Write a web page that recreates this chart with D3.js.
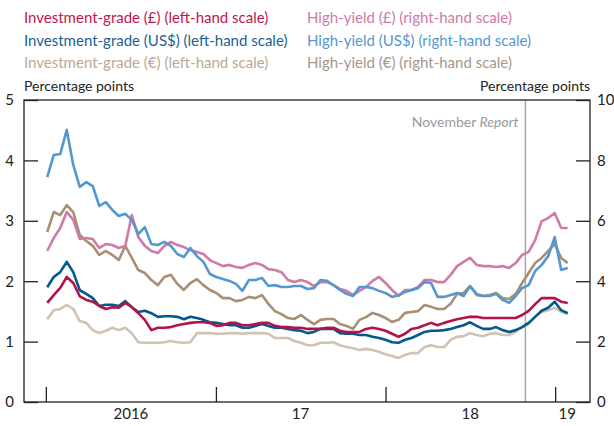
<!DOCTYPE html>
<html>
<head>
<meta charset="utf-8">
<script src="https://cdn.jsdelivr.net/npm/d3@7"></script>
<style>
  body { margin: 0; background: #fff; }
  svg text { font-family: Lato, "Open Sans", sans-serif; }
</style>
</head>
<body>
<svg id="chart" width="614" height="426"></svg>
<script>
// sample dates: every two weeks from 4 Jan 2016 to 28 Jan 2019
var startDate = new Date(2016, 0, 4);
var nPoints = 81;
var dates = d3.range(nPoints).map(function(i) { return d3.timeDay.offset(startDate, 14 * i); });

// investment-grade spreads (left-hand scale, percentage points)
var igGBP = [1.64,1.77,1.89,2.07,1.97,1.75,1.69,1.66,1.59,1.54,1.57,1.56,1.64,1.57,1.47,1.36,1.19,1.23,1.23,1.24,
  1.27,1.29,1.31,1.32,1.32,1.31,1.26,1.27,1.31,1.31,1.27,1.27,1.29,1.31,1.31,1.26,1.24,1.24,1.23,1.23,
  1.21,1.21,1.21,1.23,1.23,1.18,1.16,1.16,1.16,1.21,1.23,1.21,1.18,1.13,1.08,1.13,1.21,1.23,1.27,1.31,
  1.27,1.31,1.34,1.37,1.39,1.41,1.41,1.39,1.39,1.39,1.39,1.39,1.39,1.44,1.51,1.62,1.72,1.72,1.72,1.66,1.64];
var igUSD = [1.90,2.07,2.15,2.32,2.15,1.85,1.79,1.72,1.59,1.61,1.61,1.59,1.67,1.57,1.49,1.51,1.47,1.41,1.42,1.42,
  1.41,1.37,1.41,1.39,1.36,1.32,1.31,1.29,1.27,1.27,1.23,1.23,1.26,1.29,1.26,1.23,1.23,1.21,1.19,1.18,
  1.14,1.16,1.21,1.21,1.21,1.14,1.13,1.13,1.11,1.11,1.08,1.06,1.03,0.99,0.98,1.03,1.06,1.11,1.16,1.18,
  1.18,1.19,1.21,1.24,1.27,1.32,1.26,1.21,1.21,1.24,1.19,1.16,1.19,1.24,1.31,1.41,1.51,1.56,1.66,1.52,1.47];
var igEUR = [1.37,1.52,1.54,1.61,1.54,1.34,1.31,1.19,1.14,1.18,1.23,1.19,1.23,1.14,0.99,0.98,0.98,0.98,0.99,1.01,
  0.99,0.98,0.99,1.14,1.14,1.14,1.13,1.13,1.14,1.14,1.13,1.14,1.14,1.14,1.13,1.06,1.06,1.06,1.01,0.98,
  0.94,0.94,0.98,0.98,0.99,0.94,0.91,0.89,0.86,0.88,0.86,0.83,0.79,0.76,0.73,0.78,0.81,0.81,0.91,0.94,
  0.91,0.91,1.03,1.08,1.09,1.14,1.11,1.09,1.13,1.14,1.11,1.11,1.16,1.24,1.29,1.42,1.49,1.52,1.56,1.49,1.46];

// high-yield spreads (right-hand scale, percentage points)
var hyGBP = [5.00,5.43,5.76,6.29,6.03,5.40,5.43,5.40,5.10,5.23,5.20,5.10,5.17,6.19,5.46,5.17,5.00,4.93,5.17,5.30,
  5.20,5.13,5.03,4.97,4.90,4.70,4.60,4.50,4.54,4.47,4.44,4.54,4.60,4.54,4.40,4.37,4.30,4.04,3.97,4.04,
  3.97,3.84,3.97,3.97,3.87,3.74,3.68,3.54,3.68,3.81,4.01,4.14,3.94,3.71,3.51,3.71,3.71,3.81,4.04,4.04,
  3.97,3.97,4.21,4.50,4.64,4.77,4.54,4.50,4.50,4.47,4.50,4.44,4.60,4.87,4.97,5.36,5.99,6.09,6.26,5.76,5.76];
var hyUSD = [7.45,8.18,8.21,9.01,7.85,7.12,7.28,7.15,6.49,6.62,6.36,6.16,6.23,6.03,5.56,5.79,5.23,5.20,5.30,5.17,
  4.90,4.80,5.10,4.83,4.64,4.24,4.14,4.07,4.01,3.91,3.68,4.04,4.04,4.11,3.84,3.87,3.81,3.81,3.84,3.84,
  3.74,3.77,4.04,4.01,3.87,3.71,3.58,3.51,3.81,3.81,3.77,3.68,3.61,3.48,3.54,3.64,3.71,3.77,3.97,3.94,
  3.48,3.48,3.54,3.61,3.51,3.84,3.58,3.51,3.51,3.58,3.38,3.28,3.51,3.77,3.87,4.34,4.54,4.83,5.46,4.37,4.44];
var hyEUR = [5.63,6.29,6.19,6.52,6.29,5.53,5.33,5.17,4.87,5.00,4.87,4.70,5.17,4.77,4.37,4.27,4.04,3.87,4.14,4.21,
  3.91,3.71,3.94,4.07,3.87,3.71,3.61,3.44,3.44,3.34,3.38,3.48,3.44,3.54,3.25,3.01,2.91,2.78,2.75,2.88,
  2.72,2.58,2.72,2.75,2.75,2.58,2.52,2.42,2.72,2.81,2.95,2.88,2.78,2.65,2.72,2.95,2.98,3.01,3.21,3.15,
  3.08,3.08,3.25,3.58,3.61,3.84,3.54,3.51,3.54,3.61,3.44,3.41,3.58,3.94,4.27,4.60,4.77,5.00,5.23,4.77,4.60];

var series = [
  { name: "Investment-grade (€) (left-hand scale)", values: igEUR, axis: "left", color: "#d1c3b3", text: "#bba994" },
  { name: "High-yield (€) (right-hand scale)", values: hyEUR, axis: "right", color: "#a98f74", text: "#a6978a" },
  { name: "High-yield (£) (right-hand scale)", values: hyGBP, axis: "right", color: "#d07aa9", text: "#d07aa9" },
  { name: "High-yield (US$) (right-hand scale)", values: hyUSD, axis: "right", color: "#5598cf", text: "#5598cf" },
  { name: "Investment-grade (US$) (left-hand scale)", values: igUSD, axis: "left", color: "#015a8d", text: "#1a5f95" },
  { name: "Investment-grade (£) (left-hand scale)", values: igGBP, axis: "left", color: "#b3124a", text: "#c0174f" }
];
// legend layout order (column, row)
var legendOrder = [
  ["Investment-grade (£) (left-hand scale)", "Investment-grade (US$) (left-hand scale)", "Investment-grade (€) (left-hand scale)"],
  ["High-yield (£) (right-hand scale)", "High-yield (US$) (right-hand scale)", "High-yield (€) (right-hand scale)"]
];

var yearTicks = [new Date(2016, 0, 1), new Date(2017, 0, 1), new Date(2018, 0, 1), new Date(2019, 0, 1)];
var yearLabels = ["2016", "17", "18", "19"];
var yearLabelDates = [new Date(2016, 6, 1), new Date(2017, 6, 1), new Date(2018, 6, 1), new Date(2019, 0, 26)];
var reportDate = new Date(2018, 9, 29);

var margin = { top: 100, right: 24, bottom: 24, left: 24 },
  width = 614 - margin.left - margin.right,
  height = 426 - margin.top - margin.bottom;

var svg = d3.select("#chart");
var g = svg.append("g").attr("transform", "translate(" + margin.left + "," + margin.top + ")");

var x = d3.scaleTime().domain([new Date(2015, 10, 15), new Date(2019, 2, 17)]).range([0, width]);
var yLeft = d3.scaleLinear().domain([0, 5]).range([height, 0]);
var yRight = d3.scaleLinear().domain([0, 10]).range([height, 0]);

// legend
legendOrder.forEach(function(col, ci) {
  col.forEach(function(name, ri) {
    var s = series.find(function(d) { return d.name === name; });
    svg.append("text")
      .attr("x", ci === 0 ? 24 : 307)
      .attr("y", 23 + ri * 22.5)
      .attr("fill", s.text)
      .style("font-size", "15px")
      .text(name);
  });
});

svg.append("text").attr("x", 24).attr("y", 91).style("font-size", "14px").attr("fill", "#222").text("Percentage points");
svg.append("text").attr("x", 590).attr("y", 91).attr("text-anchor", "end").style("font-size", "14px").attr("fill", "#222").text("Percentage points");

// report line
g.append("line")
  .attr("x1", x(reportDate)).attr("x2", x(reportDate))
  .attr("y1", 0).attr("y2", height)
  .attr("stroke", "#a6a6a6").attr("stroke-width", 1.5);
var rep = g.append("text")
  .attr("x", x(reportDate) - 7).attr("y", 27)
  .attr("text-anchor", "end")
  .attr("fill", "#9a9a9a")
  .style("font-size", "14px");
rep.append("tspan").text("November ");
rep.append("tspan").style("font-style", "italic").text("Report");

// axes
var leftAxis = g.append("g")
  .call(d3.axisLeft(yLeft).ticks(5).tickSize(-14).tickPadding(10));
var rightAxis = g.append("g")
  .attr("transform", "translate(" + width + ",0)")
  .call(d3.axisRight(yRight).ticks(5).tickSize(-14).tickPadding(7));
var xTicks = g.append("g")
  .attr("transform", "translate(0," + height + ")")
  .call(d3.axisBottom(x).tickValues(yearTicks).tickSize(-15).tickFormat(""));
var xLabels = g.append("g")
  .attr("transform", "translate(0," + height + ")")
  .call(d3.axisBottom(x).tickValues(yearLabelDates).tickSize(0).tickPadding(6)
    .tickFormat(function(d, i) { return yearLabels[i]; }));

[leftAxis, rightAxis, xTicks, xLabels].forEach(function(a) {
  a.select(".domain").remove();
  a.selectAll("line").attr("stroke", "#222").attr("stroke-width", 1.3);
  a.selectAll("text").style("font-size", "15px").style("font-family", "Lato, sans-serif").attr("fill", "#222");
});

// lines
series.forEach(function(s) {
  var y = s.axis === "left" ? yLeft : yRight;
  var line = d3.line()
    .x(function(d, i) { return x(dates[i]); })
    .y(function(d) { return y(d); })
    .curve(d3.curveLinear);
  g.append("path")
    .datum(s.values)
    .attr("fill", "none")
    .attr("stroke", s.color)
    .attr("stroke-width", 2.6)
    .attr("stroke-linejoin", "round")
    .attr("d", line);
});

// frame
g.append("rect")
  .attr("width", width).attr("height", height)
  .attr("fill", "none").attr("stroke", "#222").attr("stroke-width", 1.3);
</script>
</body>
</html>
